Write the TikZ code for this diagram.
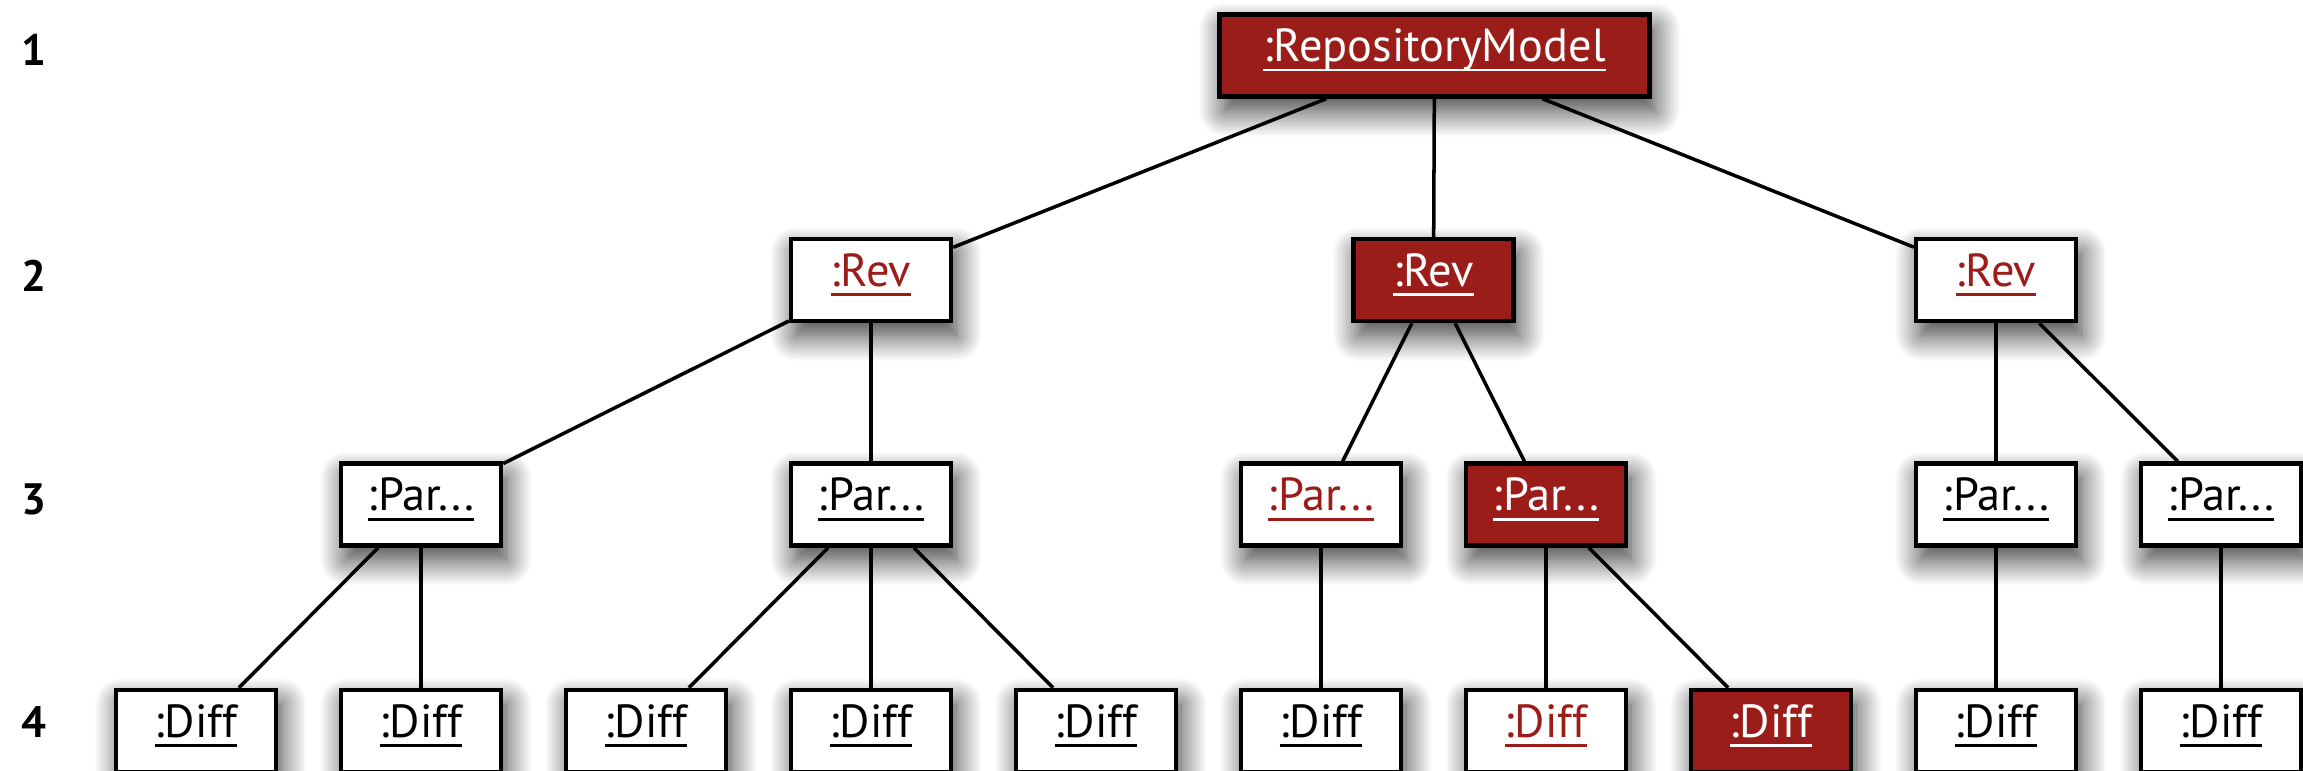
\documentclass[tikz,border=0pt]{standalone}
\usepackage{fontspec}
\setmainfont{PT Sans}
\usepackage{xcolor}
\usepackage{tikz}
\usetikzlibrary{shadows.blur}
\definecolor{selred}{RGB}{155,29,26}
\newcommand{\objname}[1]{\setbox0=\hbox{#1}\rlap{\rule[-2.75pt]{\wd0}{0.85pt}}\box0}
\tikzstyle{objnode} = [rectangle, draw, line width=1.25pt, fill=white, inner sep=0pt, minimum width=1.6cm, minimum height=0.82cm, text height=9.6pt, text depth=6pt, font=\fontsize{13.2pt}{15pt}\selectfont, blur shadow={shadow xshift=0.05cm, shadow yshift=-0.14cm, shadow blur radius=0.26cm, shadow blur steps=20, shadow opacity=80}]
\tikzstyle{hotnode} = [objnode, text=selred]
\tikzstyle{selnode} = [objnode, fill=selred, text=white]
\tikzstyle{levelnum} = [font=\fontsize{12.5pt}{14pt}\selectfont\bfseries]
\tikzstyle{link} = [draw, line width=1pt]

\begin{document}
\begin{tikzpicture}
\useasboundingbox (0,0) rectangle (23.03,-7.70);

% level numbers
\node [levelnum] at (0.34,-0.50) (l1) {1};
\node [levelnum] at (0.34,-2.76) (l2) {2};
\node [levelnum] at (0.34,-4.99) (l3) {3};
\node [levelnum] at (0.34,-7.22) (l4) {4};

% model
\node [selnode, minimum width=4.3cm] at (14.345,-0.555) (rm) {\objname{:RepositoryModel}};

% revisions
\node [hotnode] at (8.71,-2.80) (r1) {\objname{:Rev}};
\node [selnode] at (14.335,-2.80) (r2) {\objname{:Rev}};
\node [hotnode] at (19.96,-2.80) (r3) {\objname{:Rev}};

% partitions
\node [objnode] at (4.21,-5.045) (p1) {\objname{:Par...}};
\node [objnode] at (8.71,-5.045) (p2) {\objname{:Par...}};
\node [hotnode] at (13.21,-5.045) (p3) {\objname{:Par...}};
\node [selnode] at (15.46,-5.045) (p4) {\objname{:Par...}};
\node [objnode] at (19.96,-5.045) (p5) {\objname{:Par...}};
\node [objnode] at (22.21,-5.045) (p6) {\objname{:Par...}};

% diffs
\node [objnode] at (1.96,-7.31) (d1) {\objname{:Diff}};
\node [objnode] at (4.21,-7.31) (d2) {\objname{:Diff}};
\node [objnode] at (6.46,-7.31) (d3) {\objname{:Diff}};
\node [objnode] at (8.71,-7.31) (d4) {\objname{:Diff}};
\node [objnode] at (10.96,-7.31) (d5) {\objname{:Diff}};
\node [objnode] at (13.21,-7.31) (d6) {\objname{:Diff}};
\node [hotnode] at (15.46,-7.31) (d7) {\objname{:Diff}};
\node [selnode] at (17.71,-7.31) (d8) {\objname{:Diff}};
\node [objnode] at (19.96,-7.31) (d9) {\objname{:Diff}};
\node [objnode] at (22.21,-7.31) (d10) {\objname{:Diff}};

% model -> revisions
\path [link] (rm) to (r1);
\path [link] (rm) to (r2);
\path [link] (rm) to (r3);

% revisions -> partitions
\path [link] (r1) to (p1);
\path [link] (r1) to (p2);
\path [link] (r2) to (p3);
\path [link] (r2) to (p4);
\path [link] (r3) to (p5);
\path [link] (r3) to (p6);

% partitions -> diffs
\path [link] (p1) to (d1);
\path [link] (p1) to (d2);
\path [link] (p2) to (d3);
\path [link] (p2) to (d4);
\path [link] (p2) to (d5);
\path [link] (p3) to (d6);
\path [link] (p4) to (d7);
\path [link] (p4) to (d8);
\path [link] (p5) to (d9);
\path [link] (p6) to (d10);
\end{tikzpicture}
\end{document}
